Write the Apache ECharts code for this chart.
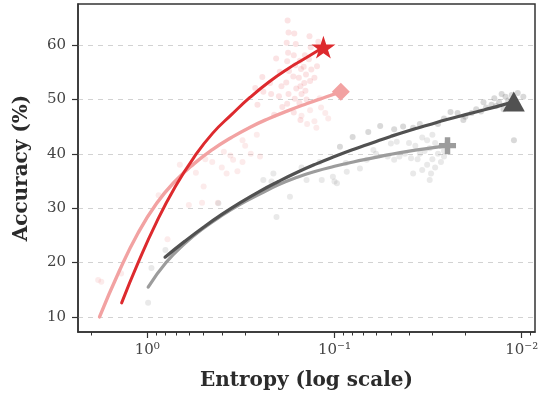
<!DOCTYPE html>
<html>
<head>
<meta charset="utf-8">
<script src="https://cdn.jsdelivr.net/npm/echarts@6/dist/echarts.min.js"></script>
<style>html,body{margin:0;padding:0;background:#fff}#c{width:542px;height:397px}</style>
</head>
<body>
<div id="c"></div>
<script>
// ---- data (entropy, accuracy %) ----
const xMajorTicks = [1, 0.1, 0.01];
const xTickLabels = ['10\u2070', '10\u207B\u00B9', '10\u207B\u00B2'];
const xMinorTicks = [2, 0.9, 0.8, 0.7, 0.6, 0.5, 0.4, 0.3, 0.2, 0.09, 0.08, 0.07, 0.06, 0.05, 0.04, 0.03, 0.02, 0.009];
const yTicks = [10, 20, 30, 40, 50, 60];

const curveDarkRed = [[1.371,12.6],[1.122,19.9],[0.891,27.5],[0.708,34.0],[0.562,39.4],[0.447,43.8],[0.355,47.2],[0.282,50.4],[0.224,53.2],[0.178,55.6],[0.141,57.7],[0.1146,59.6]];
const curveLightRed = [[1.799,10.0],[1.413,18.4],[1.122,25.4],[0.891,30.9],[0.708,35.0],[0.562,38.2],[0.447,40.8],[0.355,43.0],[0.282,44.9],[0.224,46.5],[0.178,47.9],[0.141,49.2],[0.1122,50.4],[0.0925,51.4]];
const curveDarkGray = [[0.804,21.0],[0.631,23.9],[0.501,26.5],[0.398,28.9],[0.316,31.1],[0.251,33.1],[0.1995,34.9],[0.158,36.6],[0.126,38.1],[0.1,39.5],[0.0794,40.8],[0.0631,42.0],[0.0501,43.2],[0.0398,44.3],[0.0316,45.3],[0.0251,46.3],[0.01995,47.2],[0.0158,48.1],[0.0126,49.0],[0.01102,49.6]];
const curveLightGray = [[0.989,15.5],[0.794,20.0],[0.631,23.5],[0.501,26.3],[0.398,28.7],[0.316,30.8],[0.251,32.6],[0.1995,34.3],[0.158,35.7],[0.126,36.8],[0.1,37.7],[0.0794,38.5],[0.0631,39.2],[0.0501,39.9],[0.0398,40.5],[0.0316,41.0],[0.0249,41.5]];

const dotsDarkRed = [
  [0.178,64.5],[0.176,62.3],[0.180,60.4],[0.177,58.6],[0.179,57.0],[0.175,55.2],[0.181,53.1],[0.176,51.0],[0.179,49.2],
  [0.164,62.1],[0.161,60.2],[0.165,58.1],[0.162,56.3],[0.166,54.2],[0.160,52.0],[0.163,50.1],[0.165,47.6],
  [0.153,57.1],[0.151,55.6],[0.155,54.0],[0.152,52.4],[0.150,51.0],[0.154,49.4],[0.152,46.2],
  [0.144,58.1],[0.146,56.0],[0.142,54.6],[0.145,53.0],[0.143,51.6],[0.141,50.0],
  [0.136,61.6],[0.134,59.6],[0.137,57.4],[0.133,55.5],[0.135,53.4],
  [0.122,60.6],[0.124,56.1],[0.128,54.0],
  [0.196,55.1],[0.192,52.4],[0.198,50.6],[0.190,48.6],
  [0.221,53.0],[0.218,51.0],[0.243,54.1],[0.240,51.4],[0.265,52.1],[0.258,49.0],[0.205,57.5],[0.210,47.2]
];
const dotsLightRed = [
  [0.118,48.5],[0.112,47.5],[0.108,46.5],[0.128,46.0],[0.135,48.0],[0.140,45.5],[0.125,44.8],[0.150,47.0],[0.120,50.2],
  [0.30,41.5],[0.28,40.0],[0.26,43.5],[0.31,38.5],[0.25,39.5],[0.49,39.0],[0.45,38.5],[0.40,37.5],[0.36,39.7],[0.33,36.8],
  [0.55,36.5],[0.51,31.0],[0.42,31.0],[0.78,24.3],[0.87,32.4],[1.76,16.5],[1.38,18.0],[0.67,38.0],[0.50,34.0],
  [0.377,36.4],[0.348,38.9],[0.31,42.5],[0.39,40.4],[1.83,16.8],[0.60,30.6]
];
const dotsDarkGray = [
  [0.0128,51.0],[0.0122,50.5],[0.0118,49.8],[0.0113,50.8],[0.0108,49.5],[0.0105,51.2],[0.0132,49.5],[0.0140,50.2],
  [0.0137,48.8],[0.0145,49.0],[0.0155,48.5],[0.0160,49.5],[0.0165,47.8],[0.0175,48.2],[0.0185,47.5],[0.0200,46.8],
  [0.0220,47.5],[0.0240,47.7],[0.0205,46.2],[0.0260,46.5],[0.0280,45.5],[0.0110,42.5],[0.0098,50.5],[0.0125,48.2],
  [0.057,45.1],[0.043,45.0],[0.048,44.5],[0.080,43.1],[0.066,44.0],[0.035,45.5],[0.038,44.8],[0.0935,41.3]
];
const dotsLightGray = [
  [0.034,43.0],[0.032,42.5],[0.030,43.5],[0.029,42.0],[0.031,41.0],[0.033,40.5],[0.028,40.0],[0.027,41.5],[0.026,40.5],
  [0.035,40.0],[0.036,39.0],[0.030,39.0],[0.032,38.0],[0.029,37.5],[0.027,38.5],[0.034,37.0],[0.038,36.4],[0.0305,36.4],
  [0.031,35.2],[0.026,39.5],[0.025,42.0],[0.037,41.5],[0.040,42.0],[0.042,40.0],[0.045,39.5],[0.048,38.9],[0.052,39.5],
  [0.060,40.0],[0.050,41.9],[0.0465,42.2],[0.0673,38.9],[0.086,36.7],[0.0731,37.3],[0.062,40.7],[0.039,39.2],
  [0.087,38.3],[0.100,34.9],[0.102,35.8],[0.097,34.6],[0.117,35.2],[0.141,35.2],[0.173,32.1],[0.204,28.4],[0.212,36.4],
  [0.240,35.2],[0.217,34.9],[0.417,30.9],[0.80,22.3],[0.95,19.0],[0.99,12.6],[0.120,38.5],[0.150,37.5]
];

// ---- styles ----
const C_RED = '#dd2a2e', C_PINK = '#f2a2a2', C_DGRAY = '#515151', C_LGRAY = '#9c9c9c';
const AX = '#333333';
const FONT = '"DejaVu Serif", serif';
const starPath = 'path://M100,0 L122.45,69.1 L195.1,69.1 L136.3,111.8 L158.8,180.9 L100,138.2 L41.2,180.9 L63.7,111.8 L4.9,69.1 L77.55,69.1 Z';
const plusPath = 'path://M34,0 H66 V34 H100 V66 H66 V100 H34 V66 H0 V34 H34 Z';

const xBase = {
  type: 'log', logBase: 10, inverse: true, min: 0.00849, max: 2.345,
  position: 'bottom', gridIndex: 0, splitLine: { show: false }
};

const chart = echarts.init(document.getElementById('c'), null, { renderer: 'canvas' });

function dots(data, color, op) {
  return { type: 'scatter', data: data, symbolSize: 6, silent: true, z: 1,
    itemStyle: { color: color, opacity: op } };
}
function curve(data, color, w, z) {
  return { type: 'line', data: data, smooth: true, showSymbol: false, silent: true, z: z,
    lineStyle: { color: color, width: w, cap: 'round' } };
}
function marker(data, color, symbol, size, z) {
  return { type: 'scatter', data: [data[data.length - 1]], symbol: symbol, symbolSize: size,
    symbolKeepAspect: true, silent: true, z: z, itemStyle: { color: color, opacity: 1 } };
}

chart.setOption({
  animation: false,
  backgroundColor: '#ffffff',
  grid: { left: 78, right: 7, top: 4, bottom: 65, show: true, borderColor: AX, borderWidth: 1.5, backgroundColor: 'transparent' },
  xAxis: [
    Object.assign({}, xBase, {
      name: 'Entropy (log scale)', nameLocation: 'middle', nameGap: 39,
      nameTextStyle: { fontFamily: FONT, fontWeight: 'bold', fontSize: 20, color: '#2b2b2b' },
      axisLine: { show: true, onZero: false, lineStyle: { color: AX, width: 1.5 } },
      axisTick: { show: true, length: 6, customValues: xMajorTicks, lineStyle: { color: AX, width: 1.2 } },
      axisLabel: { show: true, customValues: xMajorTicks, margin: 11, fontFamily: FONT, fontSize: 15, color: '#444',
        formatter: function (v) { for (let i = 0; i < xMajorTicks.length; i++) { if (Math.abs(Math.log10(v) - Math.log10(xMajorTicks[i])) < 1e-6) return xTickLabels[i]; } return ''; } }
    }),
    Object.assign({}, xBase, {
      axisLine: { show: false, onZero: false },
      axisTick: { show: true, length: 3.5, customValues: xMinorTicks, lineStyle: { color: AX, width: 1 } },
      axisLabel: { show: false }
    })
  ],
  yAxis: {
    type: 'value', min: 7.24, max: 67.54,
    name: 'Accuracy (%)', nameLocation: 'middle', nameGap: 46, nameRotate: 90,
    nameTextStyle: { fontFamily: FONT, fontWeight: 'bold', fontSize: 20, color: '#2b2b2b' },
    axisLine: { show: true, lineStyle: { color: AX, width: 1.5 } },
    axisTick: { show: true, length: 6, customValues: yTicks, lineStyle: { color: AX, width: 1.2 } },
    axisLabel: { customValues: yTicks, margin: 12, fontFamily: FONT, fontSize: 15, color: '#444' },
    splitLine: { show: true, lineStyle: { color: '#d2d2d2', width: 1, type: [5, 5] } }
  },
  series: [
    Object.assign(dots(dotsLightRed, C_PINK, 0.22), { xAxisIndex: 0 }),
    Object.assign(dots(dotsDarkRed, C_RED, 0.13), { xAxisIndex: 0 }),
    Object.assign(dots(dotsLightGray, C_LGRAY, 0.22), { xAxisIndex: 0 }),
    Object.assign(dots(dotsDarkGray, C_DGRAY, 0.22), { xAxisIndex: 0 }),
    curve(curveLightRed, C_PINK, 3.4, 3),
    curve(curveDarkRed, C_RED, 3, 4),
    curve(curveLightGray, C_LGRAY, 3.2, 3),
    curve(curveDarkGray, C_DGRAY, 3.2, 4),
    marker(curveLightRed, C_PINK, 'diamond', [18, 18], 6),
    marker(curveDarkRed, C_RED, starPath, 24, 7),
    marker(curveLightGray, C_LGRAY, plusPath, 17, 6),
    marker(curveDarkGray, C_DGRAY, 'triangle', [22, 20], 7)
  ]
});
</script>
</body>
</html>
